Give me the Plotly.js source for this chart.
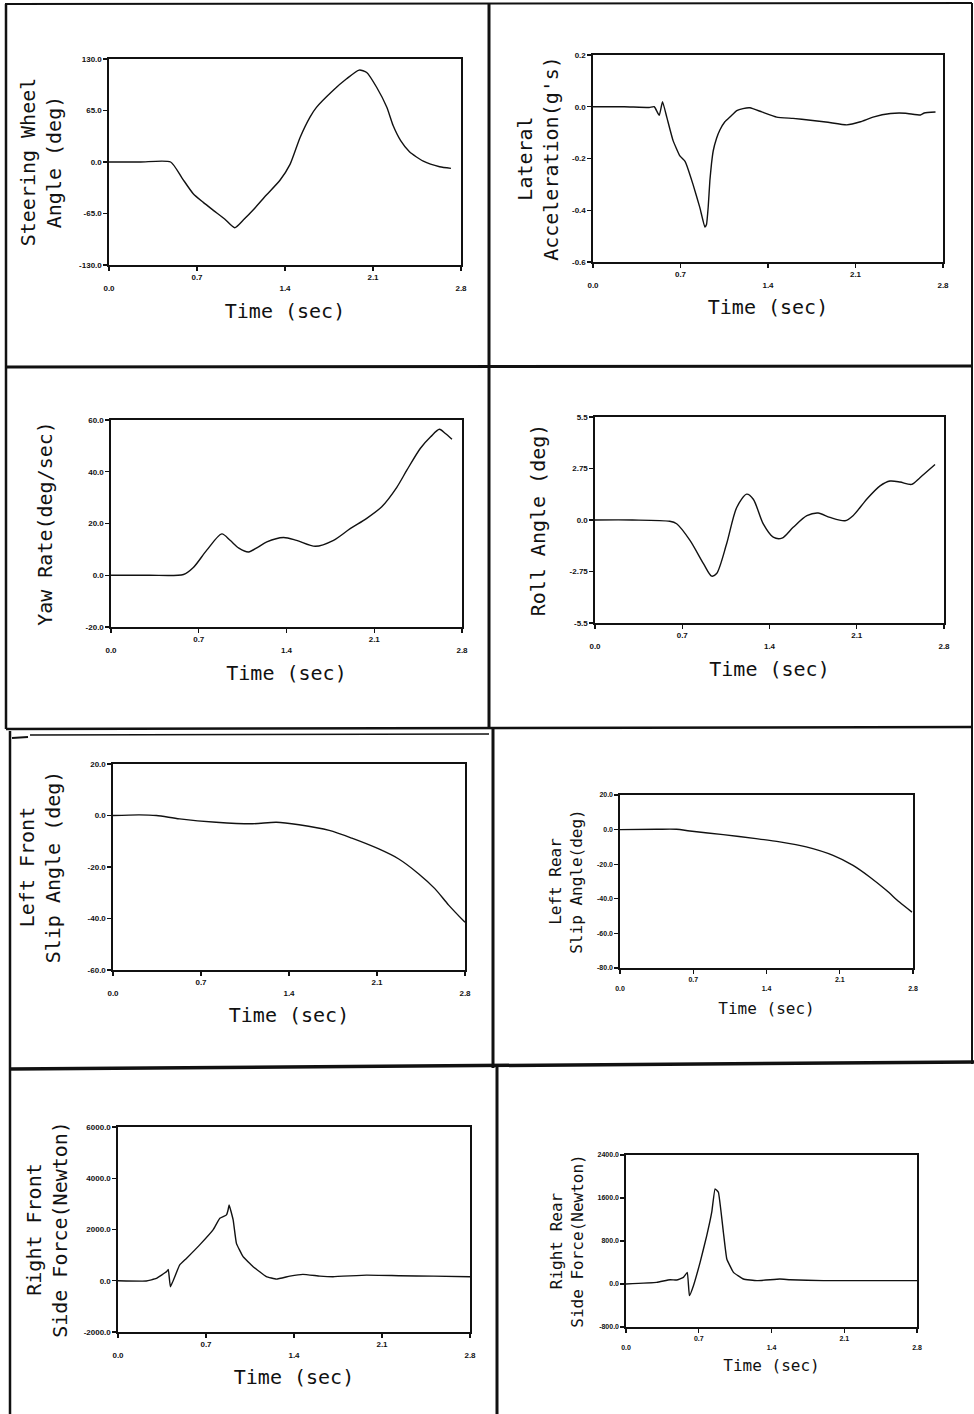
<!DOCTYPE html>
<html>
<head>
<meta charset="utf-8">
<script src="https://cdn.plot.ly/plotly-3.0.1.min.js"></script>
<style>
  html, body { margin: 0; padding: 0; background: #ffffff; }
  #chart { width: 974px; height: 1414px; }
</style>
</head>
<body>
<div id="chart"></div>
<script>
// ---------------- DATA ----------------
const xTickVals = [0, 0.7, 1.4, 2.1, 2.8];
const xTickText = ["<br>0.0", "0.7", "<br>1.4", "2.1", "<br>2.8"];
const xTitle = "Time (sec)";

// 1. Steering wheel angle (deg)
const steerT = [0, 0.25, 0.49, 0.58, 0.67, 0.75, 0.83, 0.92, 1.0, 1.07, 1.15, 1.25, 1.36, 1.44, 1.52, 1.60, 1.65, 1.78, 1.89, 1.99, 2.05, 2.13, 2.21, 2.26, 2.32, 2.39, 2.50, 2.63, 2.72];
const steerY = [0, 0, 0, -20, -40, -51, -61, -72, -83, -73, -60, -42, -23, -3, 31, 57, 69, 90, 105, 116, 113, 94, 69, 46, 27, 13, 1, -6, -8];
const steerYTicks = [130, 65, 0, -65, -130];
const steerYText = ["130.0", "65.0", "0.0", "-65.0", "-130.0"];

// 2. Lateral acceleration (g's)
const latT = [0, 0.25, 0.45, 0.49, 0.53, 0.556, 0.59, 0.64, 0.695, 0.735, 0.745, 0.80, 0.855, 0.895, 0.908, 0.922, 0.935, 0.948, 0.962, 0.988, 1.015, 1.055, 1.095, 1.15, 1.20, 1.256, 1.35, 1.47, 1.60, 1.74, 1.88, 2.03, 2.14, 2.24, 2.38, 2.50, 2.62, 2.65, 2.74];
const latY = [0, 0, -0.003, 0.0, -0.033, 0.02, -0.04, -0.13, -0.19, -0.21, -0.22, -0.30, -0.39, -0.465, -0.455, -0.385, -0.285, -0.22, -0.17, -0.123, -0.09, -0.058, -0.04, -0.015, -0.007, -0.004, -0.02, -0.04, -0.045, -0.052, -0.06, -0.07, -0.058, -0.04, -0.026, -0.025, -0.032, -0.024, -0.02];
const latYTicks = [0.2, 0.0, -0.2, -0.4, -0.6];
const latYText = ["0.2", "0.0", "-0.2", "-0.4", "-0.6"];

// 3. Yaw rate (deg/sec)
const yawT = [0, 0.3, 0.578, 0.657, 0.764, 0.884, 0.95, 1.02, 1.097, 1.17, 1.243, 1.376, 1.48, 1.63, 1.775, 1.908, 2.04, 2.16, 2.28, 2.36, 2.467, 2.55, 2.62, 2.667, 2.72];
const yawY = [0, 0, 0.3, 3, 9.7, 16, 13.5, 10.5, 9, 10.8, 12.9, 14.6, 13.5, 11.2, 13.5, 18, 22, 26.5, 34, 40.6, 49, 53.5, 56.4, 54.8, 52.6];
const yawYTicks = [60, 40, 20, 0, -20];
const yawYText = ["60.0", "40.0", "20.0", "0.0", "-20.0"];

// 4. Roll angle (deg)
const rollT = [0, 0.3, 0.60, 0.655, 0.762, 0.87, 0.936, 0.976, 1.056, 1.137, 1.217, 1.27, 1.35, 1.43, 1.50, 1.59, 1.70, 1.79, 1.885, 2.006, 2.07, 2.18, 2.287, 2.367, 2.447, 2.54, 2.607, 2.728];
const rollY = [0, 0, -0.07, -0.2, -1.09, -2.33, -3.0, -2.86, -1.27, 0.67, 1.38, 1.11, -0.21, -0.92, -0.97, -0.39, 0.23, 0.37, 0.14, -0.04, 0.23, 1.11, 1.82, 2.08, 2.03, 1.9, 2.26, 2.96];
const rollYTicks = [5.5, 2.75, 0, -2.75, -5.5];
const rollYText = ["5.5", "2.75", "0.0", "-2.75", "-5.5"];

// 5. Left front slip angle (deg)
const lfT = [0, 0.21, 0.345, 0.53, 0.82, 1.11, 1.30, 1.48, 1.72, 1.90, 2.11, 2.27, 2.43, 2.56, 2.67, 2.80];
const lfY = [0, 0.26, 0, -1.3, -2.6, -3.2, -2.6, -3.6, -5.8, -8.8, -12.9, -16.8, -22.6, -28.4, -34.8, -41.5];
const lfYTicks = [20, 0, -20, -40, -60];
const lfYText = ["20.0", "0.0", "-20.0", "-40.0", "-60.0"];

// 6. Left rear slip angle (deg)
const lrT = [0, 0.35, 0.54, 0.668, 0.986, 1.30, 1.527, 1.78, 2.036, 2.227, 2.386, 2.545, 2.67, 2.79];
const lrY = [0, 0.2, 0.2, -0.8, -2.9, -5.2, -7.1, -10, -14.9, -20.7, -27.4, -35.1, -41.9, -47.7];
const lrYTicks = [20, 0, -20, -40, -60, -80];
const lrYText = ["20.0", "0.0", "-20.0", "-40.0", "-60.0", "-80.0"];

// 7. Right front side force (Newton)
const rfT = [0, 0.225, 0.305, 0.385, 0.40, 0.417, 0.49, 0.544, 0.65, 0.756, 0.81, 0.863, 0.876, 0.884, 0.916, 0.942, 0.995, 1.075, 1.18, 1.26, 1.367, 1.47, 1.606, 1.71, 1.977, 2.24, 2.51, 2.80];
const rfY = [0, -10, 90, 350, 440, -235, 610, 870, 1400, 1985, 2440, 2570, 2770, 2960, 2376, 1460, 940, 550, 160, 65, 180, 250, 180, 157, 220, 196, 180, 157];
const rfYTicks = [6000, 4000, 2000, 0, -2000];
const rfYText = ["6000.0", "4000.0", "2000.0", "0.0", "-2000.0"];

// 8. Right rear side force (Newton)
const rrT = [0, 0.295, 0.424, 0.488, 0.552, 0.59, 0.61, 0.649, 0.713, 0.777, 0.825, 0.857, 0.889, 0.937, 0.97, 1.034, 1.13, 1.26, 1.48, 1.58, 1.90, 2.80];
const rrY = [0, 31, 80, 74, 124, 217, -217, -31, 403, 900, 1335, 1770, 1708, 963, 465, 217, 93, 62, 93, 80, 62, 62];
const rrYTicks = [2400, 1600, 800, 0, -800];
const rrYText = ["2400.0", "1600.0", "800.0", "0.0", "-800.0"];

// ---------------- LAYOUT ----------------
const W = 974, H = 1414;
const fx = p => p / W;
const fy = p => 1 - p / H;
const ink = "#111111";

const panels = [
  {t: steerT, y: steerY, yt: steerYTicks, ytt: steerYText, range: [-130, 130], title: "Steering Wheel<br>Angle (deg)", box: [109, 461, 59, 265], fs: 20, smooth: 0.6, ys: 12, xs: 12},
  {t: latT, y: latY, yt: latYTicks, ytt: latYText, range: [-0.6, 0.2], title: "Lateral<br>Acceleration(g's)", box: [593, 943, 55, 262], fs: 20, smooth: 0.4, ys: 8, xs: 11},
  {t: yawT, y: yawY, yt: yawYTicks, ytt: yawYText, range: [-20, 60], title: "Yaw Rate(deg/sec)", box: [111, 462, 420, 627], fs: 20, smooth: 0.8, ys: 27, xs: 12},
  {t: rollT, y: rollY, yt: rollYTicks, ytt: rollYText, range: [-5.5, 5.5], title: "Roll Angle (deg)", box: [595, 944, 417, 623], fs: 20, smooth: 0.8, ys: 18, xs: 12},
  {t: lfT, y: lfY, yt: lfYTicks, ytt: lfYText, range: [-60, 20], title: "Left Front<br>Slip Angle (deg)", box: [113, 465, 764, 970], fs: 20, smooth: 0.8, ys: 21, xs: 11},
  {t: lrT, y: lrY, yt: lrYTicks, ytt: lrYText, range: [-80, 20], title: "Left Rear<br>Slip Angle(deg)", box: [620, 913, 795, 968], fs: 16, smooth: 0.8, ys: 10, xs: 12},
  {t: rfT, y: rfY, yt: rfYTicks, ytt: rfYText, range: [-2000, 6000], title: "Right Front<br>Side Force(Newton)", box: [118, 470, 1127, 1332], fs: 20, smooth: 0.3, ys: 10, xs: 11},
  {t: rrT, y: rrY, yt: rrYTicks, ytt: rrYText, range: [-800, 2400], title: "Right Rear<br>Side Force(Newton)", box: [626, 917, 1155, 1327], fs: 16, smooth: 0.3, ys: 10, xs: 10}
];

const data = [];
const layout = {
  width: W, height: H,
  margin: {l: 0, r: 0, t: 0, b: 0},
  paper_bgcolor: "#ffffff",
  plot_bgcolor: "#ffffff",
  showlegend: false,
  shapes: [],
  font: {family: "DejaVu Sans Mono, monospace", color: ink}
};

panels.forEach((p, i) => {
  const n = i + 1;
  const xa = n === 1 ? "xaxis" : "xaxis" + n;
  const ya = n === 1 ? "yaxis" : "yaxis" + n;
  data.push({
    type: "scatter", mode: "lines",
    x: p.t, y: p.y,
    xaxis: "x" + (n === 1 ? "" : n), yaxis: "y" + (n === 1 ? "" : n),
    line: {color: ink, width: 1.4, shape: "spline", smoothing: p.smooth},
    hoverinfo: "skip"
  });
  const common = {
    showline: true, mirror: true, linecolor: ink, linewidth: 1.6,
    ticks: "outside", ticklen: 4, tickwidth: 1.3, tickcolor: ink,
    showgrid: false, zeroline: false, automargin: false, fixedrange: true,
    tickfont: {family: "Liberation Sans, Arial, sans-serif", size: p.fs === 20 ? 8 : 7, weight: "bold", color: ink}
  };
  layout[xa] = Object.assign({}, common, {
    domain: [fx(p.box[0]), fx(p.box[1])],
    anchor: "y" + (n === 1 ? "" : n),
    range: [0, 2.8],
    tickmode: "array", tickvals: xTickVals, ticktext: xTickText,
    title: {text: xTitle, font: {family: "DejaVu Sans Mono, monospace", size: p.fs, color: ink}, standoff: p.xs}
  });
  layout[ya] = Object.assign({}, common, {
    domain: [fy(p.box[3]), fy(p.box[2])],
    anchor: "x" + (n === 1 ? "" : n),
    range: p.range,
    tickmode: "array", tickvals: p.yt, ticktext: p.ytt,
    title: {text: p.title, font: {family: "DejaVu Sans Mono, monospace", size: p.fs, color: ink}, standoff: p.ys}
  });
});

// panel frame lines (scanned page borders)
function seg(x0, y0, x1, y1, w) {
  layout.shapes.push({type: "line", xref: "paper", yref: "paper",
    x0: fx(x0), y0: fy(y0), x1: fx(x1), y1: fy(y1),
    line: {color: ink, width: w}});
}
seg(5, 4, 972, 3, 2);
seg(6, 4, 6, 729, 2.5);
seg(489, 3, 489, 729, 3);
seg(972, 3, 972, 729, 2);
seg(6, 367, 972, 366, 3);
seg(6, 729, 972, 727, 2.5);
seg(30, 735, 489, 734, 1.5);
seg(10, 731, 10, 1414, 2.5);
seg(493, 729, 493, 1068, 3);
seg(972, 727, 972, 1064, 2);
seg(10, 1069, 974, 1062, 3.5);
seg(497, 1066, 497, 1414, 3);
seg(12, 738, 28, 737, 2);

Plotly.newPlot("chart", data, layout, {staticPlot: true, displayModeBar: false});
</script>
</body>
</html>
